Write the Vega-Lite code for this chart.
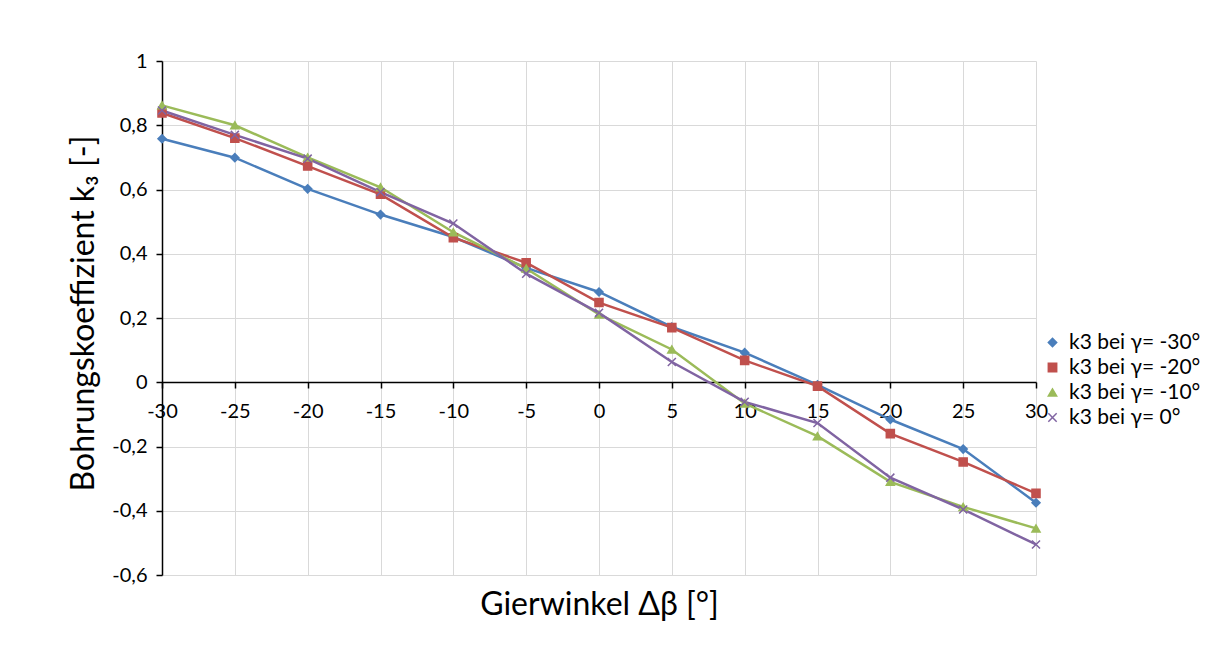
{
  "$schema": "https://vega.github.io/schema/vega-lite/v6.json",
  "width": 874,
  "height": 514,
  "autosize": {"type": "none"},
  "padding": {"left": 162, "top": 61, "right": 178, "bottom": 78},
  "background": "white",
  "config": {
    "font": "Lato",
    "view": {"stroke": null},
    "locale": {"number": {"decimal": ",", "thousands": ".", "grouping": [3], "currency": ["", " €"], "minus": "-"}},
    "axis": {"labelFont": "Lato", "titleFont": "Lato", "labelColor": "#000", "titleColor": "#000", "gridColor": "#d9d9d9", "gridWidth": 1, "domainColor": "#000", "tickColor": "#000", "domainWidth": 1.5, "tickWidth": 1.5},
    "legend": {"title": null, "orient": "none", "legendX": 880, "legendY": 271, "labelFont": "Lato", "labelFontSize": 21, "labelColor": "#000", "rowPadding": 3, "symbolSize": 70, "labelOffset": 6, "labelLimit": 300}
  },
  "data": {"values": [
    {"x": -30, "s": "k3 bei γ= -30°", "k": 0.758},
    {"x": -25, "s": "k3 bei γ= -30°", "k": 0.699},
    {"x": -20, "s": "k3 bei γ= -30°", "k": 0.602},
    {"x": -15, "s": "k3 bei γ= -30°", "k": 0.522},
    {"x": -10, "s": "k3 bei γ= -30°", "k": 0.452},
    {"x": -5, "s": "k3 bei γ= -30°", "k": 0.356},
    {"x": 0, "s": "k3 bei γ= -30°", "k": 0.281},
    {"x": 5, "s": "k3 bei γ= -30°", "k": 0.172},
    {"x": 10, "s": "k3 bei γ= -30°", "k": 0.092},
    {"x": 15, "s": "k3 bei γ= -30°", "k": -0.008},
    {"x": 20, "s": "k3 bei γ= -30°", "k": -0.116},
    {"x": 25, "s": "k3 bei γ= -30°", "k": -0.208},
    {"x": 30, "s": "k3 bei γ= -30°", "k": -0.375},
    {"x": -30, "s": "k3 bei γ= -20°", "k": 0.838},
    {"x": -25, "s": "k3 bei γ= -20°", "k": 0.76},
    {"x": -20, "s": "k3 bei γ= -20°", "k": 0.673},
    {"x": -15, "s": "k3 bei γ= -20°", "k": 0.585},
    {"x": -10, "s": "k3 bei γ= -20°", "k": 0.45},
    {"x": -5, "s": "k3 bei γ= -20°", "k": 0.372},
    {"x": 0, "s": "k3 bei γ= -20°", "k": 0.248},
    {"x": 5, "s": "k3 bei γ= -20°", "k": 0.17},
    {"x": 10, "s": "k3 bei γ= -20°", "k": 0.068},
    {"x": 15, "s": "k3 bei γ= -20°", "k": -0.012},
    {"x": 20, "s": "k3 bei γ= -20°", "k": -0.16},
    {"x": 25, "s": "k3 bei γ= -20°", "k": -0.248},
    {"x": 30, "s": "k3 bei γ= -20°", "k": -0.346},
    {"x": -30, "s": "k3 bei γ= -10°", "k": 0.862},
    {"x": -25, "s": "k3 bei γ= -10°", "k": 0.8},
    {"x": -20, "s": "k3 bei γ= -10°", "k": 0.7},
    {"x": -15, "s": "k3 bei γ= -10°", "k": 0.607},
    {"x": -10, "s": "k3 bei γ= -10°", "k": 0.467},
    {"x": -5, "s": "k3 bei γ= -10°", "k": 0.354},
    {"x": 0, "s": "k3 bei γ= -10°", "k": 0.211},
    {"x": 5, "s": "k3 bei γ= -10°", "k": 0.102},
    {"x": 10, "s": "k3 bei γ= -10°", "k": -0.066},
    {"x": 15, "s": "k3 bei γ= -10°", "k": -0.168},
    {"x": 20, "s": "k3 bei γ= -10°", "k": -0.31},
    {"x": 25, "s": "k3 bei γ= -10°", "k": -0.388},
    {"x": 30, "s": "k3 bei γ= -10°", "k": -0.455},
    {"x": -30, "s": "k3 bei γ= 0°", "k": 0.846},
    {"x": -25, "s": "k3 bei γ= 0°", "k": 0.77},
    {"x": -20, "s": "k3 bei γ= 0°", "k": 0.696},
    {"x": -15, "s": "k3 bei γ= 0°", "k": 0.592},
    {"x": -10, "s": "k3 bei γ= 0°", "k": 0.494},
    {"x": -5, "s": "k3 bei γ= 0°", "k": 0.338},
    {"x": 0, "s": "k3 bei γ= 0°", "k": 0.216},
    {"x": 5, "s": "k3 bei γ= 0°", "k": 0.063},
    {"x": 10, "s": "k3 bei γ= 0°", "k": -0.061},
    {"x": 15, "s": "k3 bei γ= 0°", "k": -0.127},
    {"x": 20, "s": "k3 bei γ= 0°", "k": -0.297},
    {"x": 25, "s": "k3 bei γ= 0°", "k": -0.396},
    {"x": 30, "s": "k3 bei γ= 0°", "k": -0.505}
  ]},
  "encoding": {
    "x": {"field": "x", "type": "quantitative",
      "scale": {"domain": [-30, 30], "nice": false, "zero": false},
      "axis": {"values": [-30, -25, -20, -15, -10, -5, 0, 5, 10, 15, 20, 25, 30], "format": "d", "offset": -193, "labelFontSize": 20, "labelPadding": 13, "tickSize": 6, "labelFlush": false,
        "title": "Gierwinkel Δβ [°]", "titleFontSize": 32, "titleFontWeight": "normal", "titleBaseline": "middle", "titleY": 222, "titleX": 437, "titleAlign": "center"}},
    "y": {"field": "k", "type": "quantitative",
      "scale": {"domain": [-0.6, 1], "nice": false, "zero": false},
      "axis": {"values": [-0.6, -0.4, -0.2, 0, 0.2, 0.4, 0.6, 0.8, 1], "format": "~g", "labelFontSize": 20, "labelPadding": 9, "tickSize": 6,
        "title": "Bohrungskoeffizient k₃ [-]", "titleFontSize": 32, "titleFontWeight": "normal", "titleAngle": -90, "titleBaseline": "middle", "titleAlign": "center", "titleX": -79, "titleY": 252}}
  },
  "layer": [
    {
      "mark": {"type": "line", "strokeWidth": 2.5},
      "encoding": {
        "color": {"field": "s", "type": "nominal", "sort": null,
          "scale": {"domain": ["k3 bei γ= -30°", "k3 bei γ= -20°", "k3 bei γ= -10°", "k3 bei γ= 0°"], "range": ["#4a7ebb", "#c0504d", "#9bbb59", "#8064a2"]}}
      }
    },
    {
      "mark": {"type": "point", "filled": true, "opacity": 1, "size": 65, "strokeWidth": 1.5},
      "encoding": {
        "color": {"field": "s", "type": "nominal", "sort": null,
          "scale": {"domain": ["k3 bei γ= -30°", "k3 bei γ= -20°", "k3 bei γ= -10°", "k3 bei γ= 0°"], "range": ["#4a7ebb", "#c0504d", "#9bbb59", "#8064a2"]}},
        "stroke": {"field": "s", "type": "nominal", "sort": null,
          "scale": {"domain": ["k3 bei γ= -30°", "k3 bei γ= -20°", "k3 bei γ= -10°", "k3 bei γ= 0°"], "range": ["#4a7ebb", "#c0504d", "#9bbb59", "#8064a2"]}},
        "shape": {"field": "s", "type": "nominal", "sort": null,
          "scale": {"domain": ["k3 bei γ= -30°", "k3 bei γ= -20°", "k3 bei γ= -10°", "k3 bei γ= 0°"], "range": ["diamond", "square", "triangle-up", "M-1,-1L1,1M-1,1L1,-1"]}}
      }
    }
  ]
}
